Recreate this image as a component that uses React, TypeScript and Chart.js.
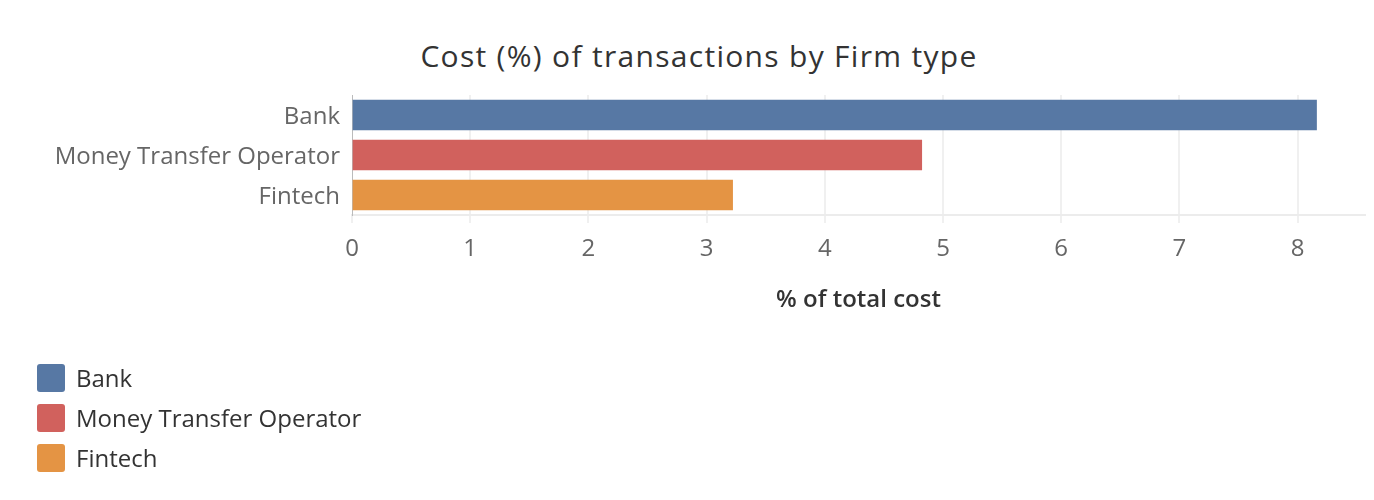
import React, { useEffect, useRef } from "react";
import { Chart, registerables } from "chart.js";

Chart.register(...registerables);

const TITLE = "Cost (%) of transactions by Firm type";
const X_TITLE = "% of total cost";
const categories = ["Bank", "Money Transfer Operator", "Fintech"];
const costValues = [8.16, 4.82, 3.22];
const xTickValues = [0, 1, 2, 3, 4, 5, 6, 7, 8];
const xMin = 0;
const xMax = 8.57;

const barColors = ["#5778a4", "#d1615d", "#e49444"];
const FONT = "'Open Sans', sans-serif";

export default function App() {
  const canvasRef = useRef<HTMLCanvasElement | null>(null);

  useEffect(() => {
    if (!canvasRef.current) return;
    const chart = new Chart(canvasRef.current, {
      type: "bar",
      data: {
        labels: categories,
        datasets: [
          {
            data: costValues,
            backgroundColor: barColors,
            barThickness: 30,
            borderWidth: 0,
          },
        ],
      },
      options: {
        indexAxis: "y",
        animation: false,
        responsive: false,
        maintainAspectRatio: false,
        layout: { padding: { top: 95, right: 9, bottom: 185.6, left: 0 } },
        plugins: {
          legend: { display: false },
          tooltip: { enabled: false },
          title: { display: false },
        },
        scales: {
          x: {
            type: "linear",
            min: xMin,
            max: xMax,
            afterBuildTicks: (scale: any) => {
              scale.ticks = xTickValues.map((v) => ({ value: v }));
            },
            afterFit: (scale: any) => {
              scale.height = 99.4;
            },
            grid: {
              color: (ctx: any) => (ctx.tick && ctx.tick.value === 0 ? "rgba(0,0,0,0)" : "#f0f0f0"),
              lineWidth: 2,
              drawTicks: true,
              tickLength: 8,
              tickColor: "#f0f0f0",
              tickWidth: 2,
            },
            border: { display: true, color: "#ececec", width: 2 },
            ticks: {
              color: "#666666",
              font: { family: FONT, size: 24 },
              padding: 12,
              maxRotation: 0,
              autoSkip: false,
            },
            title: {
              display: true,
              text: X_TITLE,
              color: "#333333",
              font: { family: FONT, size: 24, weight: "600" },
              padding: { top: 0, bottom: 0 },
            },
          },
          y: {
            type: "category",
            afterFit: (scale: any) => {
              scale.width = 352;
            },
            grid: { display: false, drawTicks: false },
            border: { display: true, color: "#bbbbbb", width: 1, dash: [2, 2] },
            ticks: {
              color: "#666666",
              font: { family: FONT, size: 24 },
              padding: 12,
              labelOffset: 2,
            },
          },
        },
      },
    });
    return () => chart.destroy();
  }, []);

  return (
    <div
      style={{
        position: "fixed",
        left: 0,
        top: 0,
        width: 1374,
        height: 500,
        background: "#ffffff",
        fontFamily: FONT,
      }}
    >
      <div
        style={{
          position: "absolute",
          left: 0,
          top: 38,
          width: 1398,
          textAlign: "center",
          fontSize: 30,
          letterSpacing: "1.3px",
          lineHeight: "36px",
          color: "#333333",
        }}
      >
        {TITLE}
      </div>
      <canvas
        ref={canvasRef}
        width={1374}
        height={500}
        style={{ position: "absolute", left: 0, top: 0, width: 1374, height: 500 }}
      />
      {categories.map((c, i) => (
        <div
          key={c}
          style={{
            position: "absolute",
            left: 37,
            top: 364 + i * 40,
            height: 28,
            display: "flex",
            alignItems: "center",
          }}
        >
          <div
            style={{
              width: 28,
              height: 28,
              borderRadius: 3,
              background: barColors[i],
              marginRight: 11,
            }}
          />
          <span style={{ fontSize: 24, color: "#333333", lineHeight: "28px" }}>{c}</span>
        </div>
      ))}
    </div>
  );
}
